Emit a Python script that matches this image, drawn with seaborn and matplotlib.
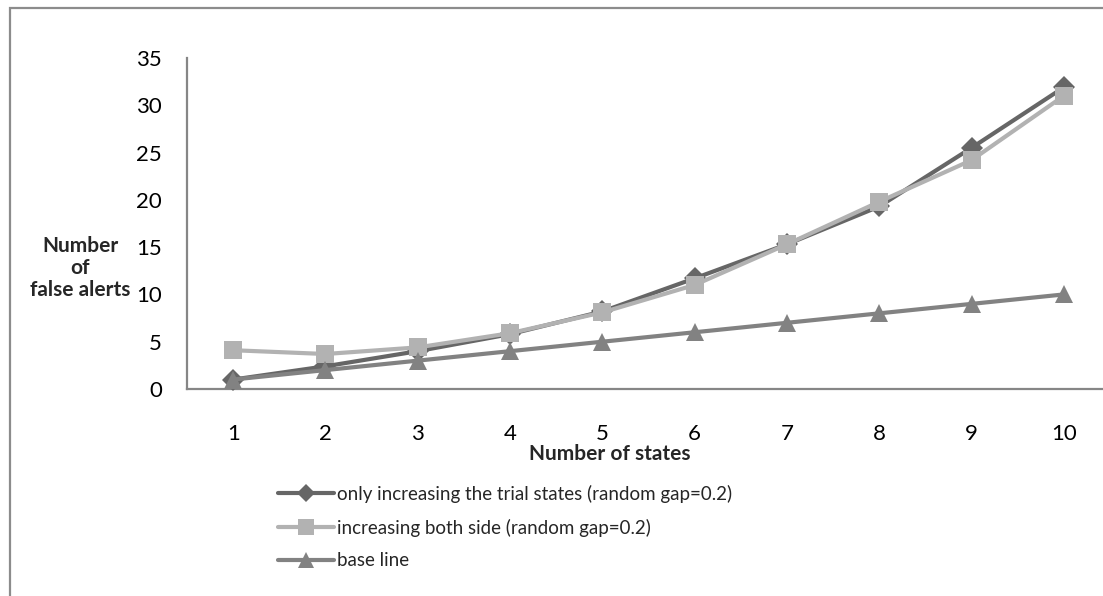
import matplotlib
matplotlib.use("Agg")
import matplotlib.pyplot as plt
from matplotlib.patches import Rectangle
import seaborn as sns
import pandas as pd

# Number of states on the category axis
states = [1, 2, 3, 4, 5, 6, 7, 8, 9, 10]

# False alerts per configuration
only_trial = [1.0, 2.4, 4.0, 5.8, 8.2, 11.7, 15.3, 19.3, 25.5, 31.9]
both_side = [4.1, 3.7, 4.4, 5.9, 8.1, 11.0, 15.3, 19.8, 24.2, 31.0]
base_line = [1, 2, 3, 4, 5, 6, 7, 8, 9, 10]

series_names = [
    "only increasing the trial states (random gap=0.2)",
    "increasing both side (random gap=0.2)",
    "base line",
]
y_ticks = [0, 5, 10, 15, 20, 25, 30, 35]

sns.set_theme(style="white")
plt.rcParams["font.family"] = ["Lato", "DejaVu Sans"]

W, H = 1103, 596
fig = plt.figure(figsize=(W / 100, H / 100), dpi=100)
fig.patch.set_facecolor("white")

# Chart frame
fig.add_artist(Rectangle((10 / W, -0.1), 1.2, 1 - 8 / H + 0.1, transform=fig.transFigure,
                         fill=False, edgecolor="#8c8c8c", linewidth=1.6))

left, right = 187, 1110
top, bottom = 58, 389
ax = fig.add_axes([left / W, 1 - bottom / H, (right - left) / W, (bottom - top) / H])

df = pd.DataFrame({
    "state": states * 3,
    "alerts": only_trial + both_side + base_line,
    "series": [series_names[0]] * 10 + [series_names[1]] * 10 + [series_names[2]] * 10,
})

styles = [
    ("#666666", "D", 11),
    ("#b2b2b2", "s", 13),
    ("#828282", "^", 13),
]
for name, (color, marker, ms) in zip(series_names, styles):
    sub = df[df["series"] == name]
    sns.lineplot(data=sub, x="state", y="alerts", ax=ax, color=color, marker=marker,
                 markersize=ms, markeredgewidth=0, linewidth=3, label=name,
                 clip_on=False, zorder=3)

ax.set_xlim(0.5, 10.5)
ax.set_ylim(0, 35)
ax.set_xticks(states)
ax.set_xticklabels([str(s) for s in states])
ax.set_yticks(y_ticks)
ax.set_yticklabels([str(t) for t in y_ticks])
ax.tick_params(axis="both", length=0, labelsize=16, colors="black")
ax.tick_params(axis="x", pad=25)
ax.tick_params(axis="y", pad=18)
ax.set_xlabel("")
ax.set_ylabel("")

for s in ["top", "right"]:
    ax.spines[s].set_visible(False)
for s in ["left", "bottom"]:
    ax.spines[s].set_color("#868686")
    ax.spines[s].set_linewidth(1.6)

fig.text(610 / W, 1 - 454 / H, "Number of states", ha="center", va="center",
         fontsize=15, fontweight="bold")
fig.text(80 / W, 1 - 268 / H, "Number\nof\nfalse alerts", ha="center", va="center",
         fontsize=15, fontweight="bold", linespacing=1.1)

handles, labels = ax.get_legend_handles_labels()
ax.get_legend().remove()
fig.legend(handles, labels, loc="upper left", bbox_to_anchor=(270 / W, 1 - 477 / H),
           frameon=False, fontsize=13.5, handlelength=3.0, handletextpad=0.15,
           labelspacing=0.85, borderaxespad=0, markerscale=0.85)

fig.savefig("out.png", dpi=100, facecolor="white")
